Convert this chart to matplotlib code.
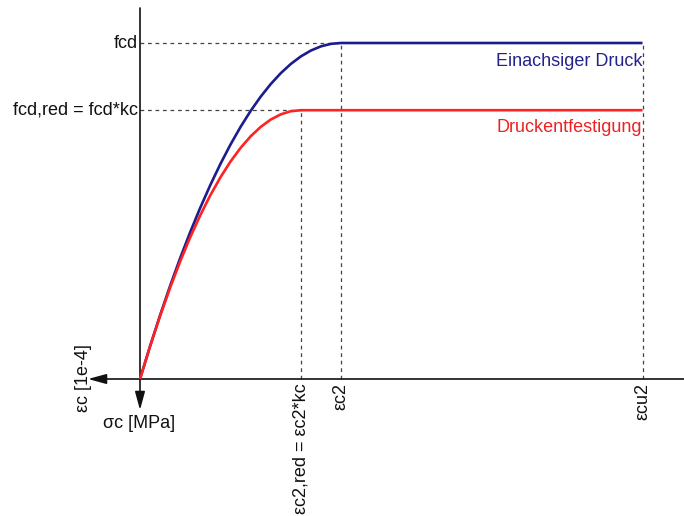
import matplotlib
matplotlib.use("Agg")
import matplotlib.pyplot as plt

# ---- data (strain in 1e-4, stress in MPa, schematic) ----
eps_c2 = 20.0
eps_c2_red = 16.0
eps_cu2 = 50.0
fcd = 20.0
fcd_red = 16.0

eps_blue = [0, 1, 2, 3, 4, 5, 6, 7, 8, 9, 10, 11, 12, 13, 14, 15, 16, 17, 18, 19, 20, 50]
sig_blue = [0, 1.95, 3.8, 5.55, 7.2, 8.75, 10.2, 11.55, 12.8, 13.95, 15.0, 15.95, 16.8,
            17.55, 18.2, 18.75, 19.2, 19.55, 19.8, 19.95, 20.0, 20.0]
eps_red = [0, 1, 2, 3, 4, 5, 6, 7, 8, 9, 10, 11, 12, 13, 14, 15, 16, 50]
sig_red = [0, 1.94, 3.75, 5.44, 7.0, 8.44, 9.75, 10.94, 12.0, 12.94, 13.75, 14.44, 15.0,
           15.44, 15.75, 15.94, 16.0, 16.0]

y_labels = ["fcd", "fcd,red = fcd*kc"]
x_labels = ["εc2,red = εc2*kc", "εc2", "εcu2"]
series_labels = ["Einachsiger Druck", "Druckentfestigung"]
axis_x_label = "εc [1e-4]"
axis_y_label = "σc [MPa]"

# ---- layout ----
W, H = 684, 516
ox, oy = 140.0, 379.0
sx = 201.0 / 20.0
sy = 336.0 / 20.0

def px2x(px):
    return (px - ox) / sx

def px2y(py):
    return (oy - py) / sy

plt.rcParams['font.family'] = ['Liberation Sans', 'DejaVu Sans']
fs = 13

fig = plt.figure(figsize=(W / 100, H / 100), dpi=100)
ax = fig.add_axes([0, 0, 1, 1])
ax.set_xlim(px2x(0), px2x(W))
ax.set_ylim(px2y(H), px2y(0))
ax.axis('off')

blue = "#1c1c8c"
red = "#ff2222"
gray = "#444444"

# dashed guide lines
dash = dict(color=gray, lw=0.9, linestyle=(0, (3, 3)))
ax.plot([0, eps_c2], [fcd, fcd], **dash)
ax.plot([0, eps_c2_red], [fcd_red, fcd_red], **dash)
ax.plot([eps_c2_red, eps_c2_red], [0, fcd_red], **dash)
ax.plot([eps_c2, eps_c2], [0, fcd], **dash)
ax.plot([eps_cu2, eps_cu2], [0, fcd], **dash)

# axes with arrows
arr = dict(arrowstyle='-|>,head_length=1.1,head_width=0.3', color='#111111', lw=1.2,
           shrinkA=0, shrinkB=0, mutation_scale=10)
ax.annotate('', xy=(px2x(88), 0), xytext=(px2x(W), 0), arrowprops=arr)
ax.annotate('', xy=(0, px2y(410)), xytext=(0, px2y(8)), arrowprops=arr)

# curves
ax.plot(eps_blue, sig_blue, color=blue, lw=1.9, solid_capstyle='butt', zorder=5)
ax.plot(eps_red, sig_red, color=red, lw=1.9, solid_capstyle='butt', zorder=6)

# labels
ax.text(px2x(138), fcd, y_labels[0], ha='right', va='center', fontsize=fs, color='#111111')
ax.text(px2x(138), fcd_red, y_labels[1], ha='right', va='center', fontsize=fs, color='#111111')
for xv, lab in zip([eps_c2_red, eps_c2, eps_cu2], x_labels):
    ax.text(xv, px2y(383), lab, rotation=90, ha='center', va='top', fontsize=fs, color='#111111')
ax.text(eps_cu2, px2y(61), series_labels[0], ha='right', va='center', fontsize=fs, color="#23238f")
ax.text(eps_cu2, px2y(127), series_labels[1], ha='right', va='center', fontsize=fs, color="#ee2222")
ax.text(px2x(84), px2y(378), axis_x_label, rotation=90, ha='center', va='center', fontsize=fs, color='#111111')
ax.text(px2x(139), px2y(423), axis_y_label, ha='center', va='center', fontsize=fs, color='#111111')

fig.savefig("out.png", dpi=100)
